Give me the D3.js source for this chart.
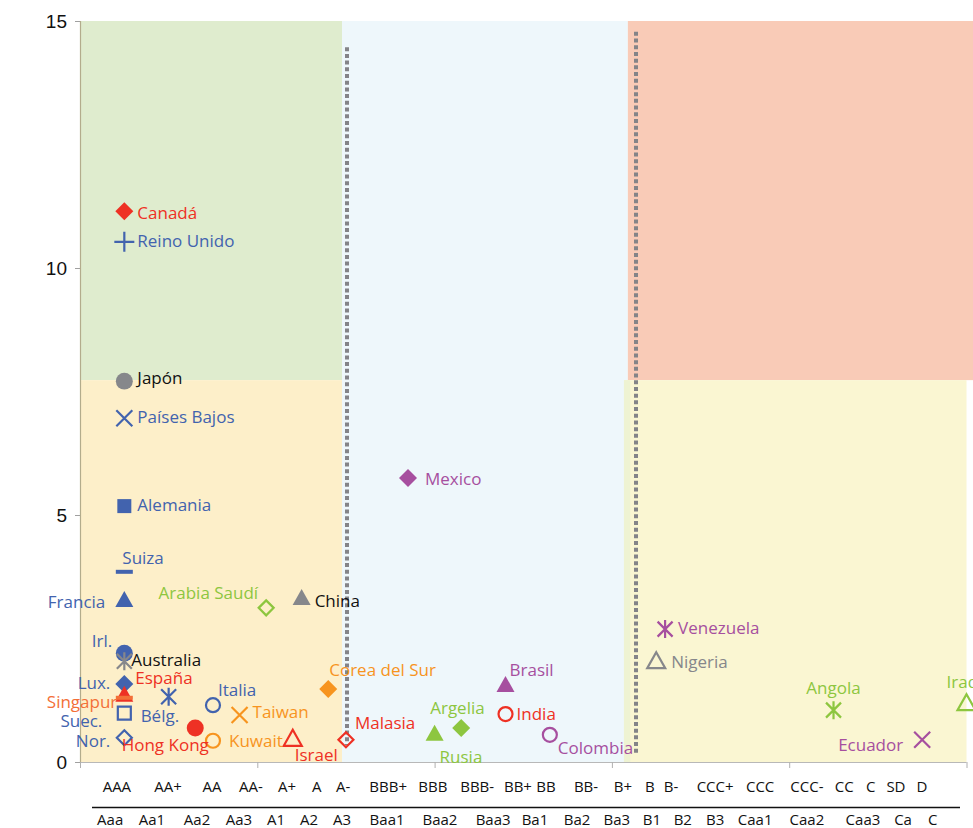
<!DOCTYPE html>
<html>
<head>
<meta charset="utf-8">
<script src="https://cdn.jsdelivr.net/npm/d3@7"></script>
<style>
  html, body { margin: 0; padding: 0; background: #fff; }
  svg { display: block; }
</style>
</head>
<body>
<svg id="chart" width="973" height="828"></svg>
<script>
// ---------- DATA ----------
const countries = ["Canadá","Reino Unido","Japón","Países Bajos","Alemania","Suiza","Francia","Irl.","Australia","Lux.","España","Singapur","Suec.","Bélg.","Nor.","Hong Kong","Italia","Kuwait","Taiwan","Arabia Saudí","China","Israel","Corea del Sur","Malasia","Mexico","Rusia","Argelia","Brasil","India","Colombia","Nigeria","Venezuela","Angola","Ecuador","Iraq"];
const xValues = [1.25,1.25,1.25,1.25,1.25,1.25,1.25,1.25,1.25,1.25,1.25,1.25,1.25,2.5,1.25,3.25,3.75,3.75,4.5,5.25,6.25,6.0,7.0,7.5,9.25,10.0,10.75,12.0,12.0,13.25,16.25,16.5,21.25,23.75,25.0];
const yValues = [11.15,10.53,7.71,6.96,5.18,3.85,3.28,2.2,2.04,1.58,1.36,1.3,0.99,1.32,0.49,0.69,1.15,0.43,0.95,3.12,3.32,0.47,1.48,0.45,5.75,0.57,0.69,1.56,0.97,0.55,2.04,2.69,1.05,0.45,1.19];
const shapes = ["diamond","plus","circle","x","square","dash","triangle","circle","asterisk","diamond","triangle","dash","squareOpen","asterisk","diamondOpen","circle","circleOpen","circleOpen","x","diamondOpen","triangle","triangleOpen","diamond","diamondOpen","diamond","triangle","diamond","triangle","circleOpen","circleOpen","triangleOpen","asterisk","asterisk","x","triangleOpen"];
const colorKeys = ["red","blue","gray","blue","blue","blue","blue","blue","gray","blue","red","orangeRed","blue","blue","blue","red","blue","orange","orange","green","gray","red","orange","red","purple","green","green","purple","red","purple","gray","purple","green","purple","green"];
const labelColorKeys = ["red","blue","black","blue","blue","blue","blue","blue","black","blue","red","orangeRed","blue","blue","blue","red","blue","orange","orange","green","black","red","orange","red","purple","green","green","purple","red","purple","gray","purple","green","purple","green"];

const yTicks = [0,5,10,15];
const spLabels = ["AAA","AA+","AA","AA-","A+","A","A-","BBB+","BBB","BBB-","BB+","BB","BB-","B+","B","B-","CCC+","CCC","CCC-","CC","C","SD","D"];
const spAt =     [1.04,2.48,3.72,4.82,5.84,6.68,7.42,8.69,9.95,11.2,12.35,13.14,14.27,15.31,16.07,16.67,17.91,19.18,20.5,21.55,22.3,23.01,23.74];
const moodyLabels = ["Aaa","Aa1","Aa2","Aa3","A1","A2","A3","Baa1","Baa2","Baa3","Ba1","Ba2","Ba3","B1","B2","B3","Caa1","Caa2","Caa3","Ca","C"];
const moodyAt =     [0.85,2.03,3.3,4.48,5.53,6.46,7.39,8.66,10.15,11.65,12.83,14.02,15.14,16.13,17.0,17.91,19.04,20.5,22.08,23.21,24.05];

// rating zones (x in axis units, y in axis units)
const zoneX0 = [0, 0, 7.39, 15.45, 15.34];
const zoneX1 = [7.39, 7.39, 15.45, 25.2, 25.0];
const zoneY0 = [7.73, 0, 0, 7.73, 0];
const zoneY1 = [15, 7.73, 15, 15, 7.73];
const zoneFill = ["#dfecce","#fdefc9","#eef7fb","#f9cbb7","#faf6d2"];

const dividerX = [7.53, 15.68];
const dividerY0 = [0.34, 0.14];
const dividerY1 = [14.47, 14.78];

// ---------- STYLE / LAYOUT ----------
const palette = {red:"#ee3124", blue:"#4263ae", gray:"#86878b", orange:"#f7941e", orangeRed:"#f36f37", green:"#8dc63f", purple:"#a64f9f", black:"#111111"};
// label placement: [dx, dy(center), anchor]
const labelPlace = {
  "Canadá":[13,2,"start"], "Reino Unido":[13,-1,"start"], "Japón":[13,-3,"start"],
  "Países Bajos":[13,-1,"start"], "Alemania":[13,-1,"start"], "Suiza":[-2,-14,"start"],
  "Francia":[-19,2,"end"], "Irl.":[-12,-12,"end"], "Australia":[7,-1,"start"],
  "Lux.":[-14,-1,"end"], "España":[11,-17,"start"], "Singapur":[-7,4,"end"],
  "Suec.":[-22,8,"end"], "Bélg.":[-28,19,"start"], "Nor.":[-14,3,"end"],
  "Hong Kong":[-30,17,"middle"], "Italia":[5,-15,"start"], "Kuwait":[16,0,"start"],
  "Taiwan":[13,-3,"start"], "Arabia Saudí":[-8,-15,"end"], "China":[13,3,"start"],
  "Israel":[2,16,"start"], "Corea del Sur":[1,-19,"start"], "Malasia":[9,-17,"start"],
  "Mexico":[17,1,"start"], "Rusia":[5,23,"start"], "Argelia":[-31,-20,"start"],
  "Brasil":[4,-15,"start"], "India":[11,0,"start"], "Colombia":[8,13,"start"],
  "Nigeria":[15,1,"start"], "Venezuela":[13,-1,"start"], "Angola":[0,-22,"middle"],
  "Ecuador":[-19,5,"end"], "Iraq":[-20,-21,"start"]
};

const svg = d3.select("#chart");
const x = d3.scaleLinear().domain([0, 25]).range([80, 966.5]);
const y = d3.scaleLinear().domain([0, 15]).range([762, 21]);

// zones
const zones = zoneFill.map((f,i)=>({x0:zoneX0[i],x1:zoneX1[i],y0:zoneY0[i],y1:zoneY1[i],fill:f}));
svg.append("g").selectAll("rect").data(zones).join("rect")
  .attr("x", d=>x(d.x0)).attr("y", d=>y(d.y1))
  .attr("width", d=>x(d.x1)-x(d.x0)).attr("height", d=>y(d.y0)-y(d.y1))
  .attr("fill", d=>d.fill);
svg.append("rect").attr("x", x(15.34)).attr("y", y(7.73)).attr("width", x(15.52)-x(15.34))
  .attr("height", y(0)-y(7.73)).attr("fill", "#eef3d2");

// dividers
svg.append("g").selectAll("line").data(dividerX.map((v,i)=>({x:v,y0:dividerY0[i],y1:dividerY1[i]}))).join("line")
  .attr("x1", d=>x(d.x)).attr("x2", d=>x(d.x))
  .attr("y1", d=>y(d.y1)).attr("y2", d=>y(d.y0))
  .attr("stroke", "#848488").attr("stroke-width", 4).attr("stroke-dasharray", "4 2.7");

// axes
const yAxis = d3.axisLeft(y).tickValues(yTicks).tickSize(5).tickPadding(8);
const gy = svg.append("g").attr("transform", "translate(80,0)").call(yAxis);
gy.select(".domain").attr("stroke", "#b3ac8c").attr("stroke-width", 1.2).attr("d", `M0.5,${y(15)}V${y(0)}`);
gy.selectAll(".tick line").attr("stroke", "#a0a0a0");
gy.selectAll(".tick text").attr("font-family", "'Liberation Sans Narrow','Arial Narrow',sans-serif")
  .attr("font-size", 19).attr("fill", "#111");

const xAxis = d3.axisBottom(x).tickValues([0,5,10,15,20,25]).tickSize(6).tickFormat("");
const gx = svg.append("g").attr("transform", `translate(0,${y(0)})`).call(xAxis);
gx.select(".domain").attr("stroke", "#b8b8b8").attr("stroke-width", 1.2).attr("d", `M${x(0)},0.5H${x(25)}`);
gx.selectAll(".tick line").attr("stroke", "#b0b0b0");

const catFont = "'Open Sans','Noto Sans',sans-serif";
svg.append("g").selectAll("text").data(spLabels).join("text")
  .attr("x", (d,i)=>x(spAt[i])).attr("y", 792).attr("text-anchor","middle")
  .attr("font-family", catFont).attr("font-size", 15).attr("fill", "#111").text(d=>d);
svg.append("line").attr("x1", 92).attr("x2", 960).attr("y1", 807.5).attr("y2", 807.5)
  .attr("stroke", "#111").attr("stroke-width", 1.6);
svg.append("g").selectAll("text").data(moodyLabels).join("text")
  .attr("x", (d,i)=>x(moodyAt[i])).attr("y", 825).attr("text-anchor","middle")
  .attr("font-family", catFont).attr("font-size", 15).attr("fill", "#111").text(d=>d);

// markers
function shapePath(s) {
  switch (s) {
    case "diamond": return "M0,-9L9,0L0,9L-9,0Z";
    case "diamondOpen": return "M0,-7.5L7.5,0L0,7.5L-7.5,0Z";
    case "square": return "M-7,-7H7V7H-7Z";
    case "squareOpen": return "M-6.5,-6.5H6.5V6.5H-6.5Z";
    case "triangle": case "triangleOpen": return "M0,-9L9,7L-9,7Z";
    case "plus": return "M-10,0H10M0,-10V10";
    case "x": return "M-8,-8L8,8M8,-8L-8,8";
    case "asterisk": return "M0,-9V9M-7.5,-7.5L7.5,7.5M7.5,-7.5L-7.5,7.5";
    case "dash": return "M-8.5,0H8.5";
    case "circle": return d3.symbol(d3.symbolCircle, Math.PI*72)();
    case "circleOpen": return d3.symbol(d3.symbolCircle, Math.PI*49)();
  }
}
const pts = countries.map((c,i)=>({name:c, x:xValues[i], y:yValues[i], shape:shapes[i],
  color:palette[colorKeys[i]], lcolor:palette[labelColorKeys[i]]}));
const filled = new Set(["diamond","square","triangle","circle"]);
svg.append("g").selectAll("path").data(pts).join("path")
  .attr("transform", d=>`translate(${x(d.x)},${y(d.y)})`)
  .attr("d", d=>shapePath(d.shape))
  .attr("fill", d=>filled.has(d.shape) ? d.color : "none")
  .attr("stroke", d=>filled.has(d.shape) ? "none" : d.color)
  .attr("stroke-width", d=>d.shape==="dash" ? 4 : 2.2);

// labels
svg.append("g").selectAll("text").data(pts).join("text")
  .attr("x", d=>x(d.x)+labelPlace[d.name][0])
  .attr("y", d=>y(d.y)+labelPlace[d.name][1])
  .attr("dy", "0.35em")
  .attr("text-anchor", d=>labelPlace[d.name][2])
  .attr("font-family", "'Open Sans','Noto Sans',sans-serif")
  .attr("font-size", 17)
  .attr("fill", d=>d.lcolor)
  .text(d=>d.name);
</script>
</body>
</html>
